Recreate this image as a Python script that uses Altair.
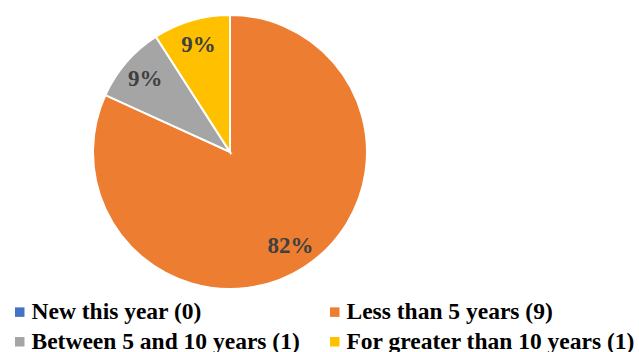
import altair as alt
import pandas as pd

# Years-of-service breakdown
categories = [
    "New this year (0)",
    "Less than 5 years (9)",
    "Between 5 and 10 years (1)",
    "For greater than 10 years (1)",
]
counts = [0, 9, 1, 1]
colors = ["#4472C4", "#ED7D31", "#A5A5A5", "#FFC000"]

df = pd.DataFrame({"category": categories, "count": counts, "order": list(range(len(categories)))})

SERIF = "Liberation Serif"
CX, CY = 230, 152

base = alt.Chart(df).transform_joinaggregate(
    total="sum(count)"
).transform_calculate(
    pct="datum.count / datum.total"
).encode(
    theta=alt.Theta("count:Q", stack=True),
    order=alt.Order("order:Q"),
    x=alt.value(CX),
    y=alt.value(CY),
)

pie = base.mark_arc(radius=137, stroke="white", strokeWidth=2).encode(
    color=alt.Color(
        "category:N",
        sort=categories,
        scale=alt.Scale(domain=categories, range=colors),
        legend=alt.Legend(
            title=None,
            orient="none",
            direction="horizontal",
            legendX=8,
            legendY=300,
            columns=2,
            columnPadding=23,
            rowPadding=5,
            symbolType="square",
            symbolSize=90,
            symbolStrokeWidth=0,
            labelOffset=0,
            labelFont=SERIF,
            labelFontSize=23.5,
            labelFontWeight="bold",
            labelColor="#000000",
            labelLimit=0,
        ),
    )
)

labels = base.mark_text(
    radius=112, font=SERIF, fontSize=23, fontWeight="bold", color="#404040"
).encode(
    text=alt.Text("pct:Q", format=".0%"),
).transform_filter("datum.count > 0")

chart = alt.layer(pie, labels).properties(
    width=639, height=352, padding=0, autosize=alt.AutoSizeParams(type="none")
).configure_view(stroke=None)

chart.save("out.html", embed_options={"renderer": "svg", "actions": False})
